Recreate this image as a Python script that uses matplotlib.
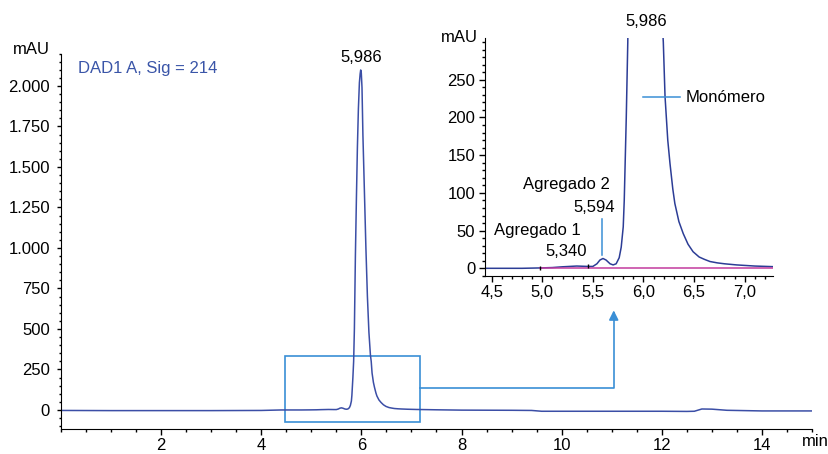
import matplotlib
matplotlib.use("Agg")
import matplotlib.pyplot as plt
from matplotlib.ticker import MultipleLocator, FuncFormatter

plt.rcParams['font.family'] = ['Liberation Sans', 'DejaVu Sans']
plt.rcParams['font.size'] = 12

# chromatogram (min, mAU)
t = [0.0, 1.0, 2.0, 3.0, 4.0, 4.4, 4.8, 4.98, 5.1, 5.2, 5.34, 5.45, 5.5, 5.54,
     5.57, 5.60, 5.63, 5.67, 5.70, 5.73, 5.76, 5.78, 5.80, 5.81, 5.83, 5.845,
     5.86, 5.88, 5.90, 5.92, 5.94, 5.96, 5.975, 5.986, 5.998, 6.012, 6.03,
     6.06, 6.09, 6.12, 6.15, 6.18, 6.196, 6.213, 6.24, 6.262, 6.29, 6.31,
     6.35, 6.393, 6.44, 6.49, 6.55, 6.6, 6.657, 6.73, 6.8, 6.92, 7.1, 7.28,
     7.5, 8.0, 9.0, 9.4, 9.6, 10.0, 11.0, 12.0, 12.5, 12.65, 12.8, 13.0,
     13.3, 14.0, 15.0]
mau = [-3, -4, -4, -4, -3, 0, 0, 0.5, 1, 2, 3, 2.5, 2.5, 6,
       11, 13, 11, 6, 4.5, 6, 14, 28, 55, 90, 200, 300,
       500, 950, 1300, 1620, 1860, 2020, 2075, 2099, 2080, 1990, 1700,
       1350, 1000, 700, 480, 340, 300, 228, 170, 139, 105, 86,
       62, 46, 32, 22, 15, 12, 9, 7.2, 6, 4.5, 3, 2.2,
       1, -1, -2, -3, -8, -8, -8, -8, -9, -8, 6, 5,
       -2, -6, -6]

main_yticks = [0, 250, 500, 750, 1000, 1250, 1500, 1750, 2000]
main_xticks = [2, 4, 6, 8, 10, 12, 14]
inset_xticks = [4.5, 5.0, 5.5, 6.0, 6.5, 7.0]
inset_yticks = [0, 50, 100, 150, 200, 250]
baseline_t = [4.98, 7.28]
baseline_v = [0.3, 0.3]

W, H = 829, 454
sig_col = '#3b4ea6'
box_col = '#3a8fd6'


def fx(px):
    return px / W


def fy(py):
    return 1 - py / H


fig = plt.figure(figsize=(W / 100, H / 100), dpi=100)

# main chromatogram
ax = fig.add_axes([fx(61), fy(429.4), fx(812) - fx(61), fy(53.6) - fy(429.4)])
ax.plot(t, mau, color=sig_col, lw=1.1)
ax.set_xlim(0, 15)
ax.set_ylim(-120, 2200)
ax.spines[['top', 'right']].set_visible(False)
ax.set_xticks(main_xticks)
ax.set_yticks(main_yticks)
ax.xaxis.set_minor_locator(MultipleLocator(0.5))
ax.yaxis.set_minor_locator(MultipleLocator(50))
ax.yaxis.set_major_formatter(FuncFormatter(lambda v, p: f"{int(v):,}".replace(',', '.')))
ax.tick_params(axis='x', which='major', length=4, width=1, pad=2)
ax.tick_params(axis='x', which='minor', length=2.5, width=1)
ax.tick_params(axis='y', which='major', length=3, width=1, pad=5)
ax.tick_params(axis='y', which='minor', length=1.8, width=1)

# zoom box and connector
ax.add_patch(plt.Rectangle((4.48, -74), 7.18 - 4.48, 333 + 74, fill=False,
                           ec=box_col, lw=1.2))
ax.plot([7.18, 11.04, 11.04], [138, 138, 600], color=box_col, lw=1.2, clip_on=False)
ax.annotate('', xy=(11.04, 632), xytext=(11.04, 560),
            arrowprops=dict(arrowstyle='-|>', color=box_col, lw=1.2,
                            mutation_scale=14), annotation_clip=False)

fig.text(fx(50), fy(49), 'mAU', ha='right', va='center')
fig.text(fx(78), fy(68), 'DAD1 A, Sig = 214', ha='left', va='center', color='#3a55a8')
fig.text(fx(361), fy(57), '5,986', ha='center', va='center')
fig.text(fx(829), fy(441), 'min', ha='right', va='center')

# inset
ai = fig.add_axes([fx(485), fy(276), fx(772.7) - fx(485), fy(38) - fy(276)])
ai.plot(t, mau, color='#2c3d96', lw=1.1)
ai.plot(baseline_t, baseline_v, color='#c23a9e', lw=1.1)
ai.plot([4.98, 5.45], [0.5, 2.5], ls='none', marker='|', color='black', ms=3, mew=1)
ai.set_xlim(4.434, 7.277)
ai.set_ylim(-10.2, 305.4)
ai.spines[['top', 'right']].set_visible(False)
ai.set_xticks(inset_xticks)
ai.set_yticks(inset_yticks)
ai.set_xticklabels([f"{v:.1f}".replace('.', ',') for v in inset_xticks])
ai.xaxis.set_minor_locator(MultipleLocator(0.1))
ai.yaxis.set_minor_locator(MultipleLocator(10))
ai.tick_params(axis='x', which='major', length=4.5, width=1, pad=2)
ai.tick_params(axis='x', which='minor', length=2.5, width=1)
ai.tick_params(axis='y', which='major', length=4, width=1, pad=3)
ai.tick_params(axis='y', which='minor', length=2, width=1)

fig.text(fx(478), fy(38), 'mAU', ha='right', va='center')
fig.text(fx(646), fy(21), '5,986', ha='center', va='center')
fig.lines.append(plt.Line2D([fx(643), fx(680)], [fy(97), fy(97)],
                            transform=fig.transFigure, color=box_col, lw=1.1))
fig.text(fx(686), fy(98), 'Monómero', ha='left', va='center')
fig.text(fx(566), fy(185), 'Agregado 2', ha='center', va='center')
fig.text(fx(594), fy(208), '5,594', ha='center', va='center')
fig.lines.append(plt.Line2D([fx(602), fx(602)], [fy(219), fy(255)],
                            transform=fig.transFigure, color=box_col, lw=1.1))
fig.text(fx(537), fy(230), 'Agregado 1', ha='center', va='center')
fig.text(fx(566), fy(252), '5,340', ha='center', va='center')

fig.savefig('out.png', dpi=100)
